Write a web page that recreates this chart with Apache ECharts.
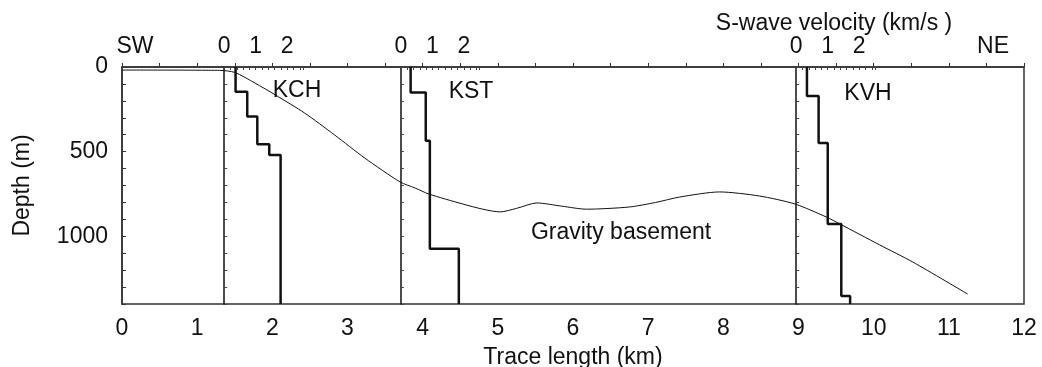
<!DOCTYPE html>
<html>
<head>
<meta charset="utf-8">
<script src="https://cdn.jsdelivr.net/npm/echarts@6/dist/echarts.min.js"></script>
<style>
  html, body { margin: 0; background: #fff; }
  #main { width: 1042px; height: 367px; }
</style>
</head>
<body>
<div id="main"></div>
<script>
// gravity basement profile (trace length km, depth m)
const gravityKm = [0, 1.3, 1.5, 1.77, 2.04, 2.43, 2.83, 3.23, 3.7, 3.9, 4.08, 4.53, 4.8, 5.03, 5.25, 5.52, 5.85, 6.18, 6.75, 7.1, 7.42, 7.95, 8.48, 8.95, 9.37, 9.55, 10.08, 10.52, 11.25]
const gravityDepth = [18, 20, 32, 95, 165, 272, 402, 538, 679, 715, 750, 809, 840, 856, 835, 803, 822, 840, 827, 800, 768, 738, 762, 809, 886, 927, 1051, 1152, 1341]

// wells: position along the trace (km)
const wellNames = ['KCH', 'KST', 'KVH']
const wellKm = [1.36, 3.71, 8.97]

// S-wave velocity layers (km/s) and layer bottom depth (m)
const kchVel = [0.36, 0.73, 1.05, 1.43, 1.79]
const kchBase = [146, 293, 457, 520, 1400]
const kstVel = [0.31, 0.79, 0.92, 1.84]
const kstBase = [150, 435, 1073, 1400]
const kvhVel = [0.34, 0.71, 1.0, 1.43, 1.71]
const kvhBase = [171, 449, 927, 1353, 1400]

const wellVel = [kchVel, kstVel, kvhVel]
const wellBase = [kchBase, kstBase, kvhBase]

const FONT = "'Liberation Sans', Arial, sans-serif"
const FS = 23
const INK = '#111'

function stepPoints (vel, base) {
  const pts = []
  let top = 0
  vel.forEach((v, i) => {
    pts.push([v, top])
    pts.push([v, base[i]])
    top = base[i]
  })
  return pts
}

const intLabel = v => (Math.abs(v - Math.round(v)) < 1e-6 ? String(Math.round(v)) : '')

const chart = echarts.init(document.getElementById('main'))

const mainGrid = {
  left: 122, right: 18, top: 67, bottom: 63,
  outerBoundsMode: 'none',
  show: true, borderColor: '#333', borderWidth: 1.5
}

const option = {
  animation: false,
  textStyle: { fontFamily: FONT },
  grid: [mainGrid],
  xAxis: [{
    type: 'value',
    gridIndex: 0,
    min: 0,
    max: 12,
    interval: 0.5,
    name: 'Trace length (km)',
    nameLocation: 'middle',
    nameGap: 42,
    nameTextStyle: { fontSize: FS, color: INK, fontFamily: FONT },
    axisLine: { lineStyle: { color: '#333', width: 1.5 } },
    axisTick: { inside: true, length: 4, lineStyle: { color: '#333' } },
    axisLabel: { fontSize: FS, color: INK, margin: 13, formatter: intLabel },
    splitLine: { show: false }
  }],
  yAxis: [{
    type: 'value',
    gridIndex: 0,
    inverse: true,
    min: 0,
    max: 1400,
    interval: 100,
    name: 'Depth (m)',
    nameLocation: 'middle',
    nameGap: 88,
    nameTextStyle: { fontSize: FS, color: INK, fontFamily: FONT },
    axisLine: { lineStyle: { color: '#333', width: 1.5 } },
    axisTick: { inside: true, length: 4, lineStyle: { color: '#333' } },
    axisLabel: {
      fontSize: FS,
      color: INK,
      margin: 14,
      formatter: v => (v % 500 === 0 ? String(v) : '')
    },
    splitLine: { show: false }
  }],
  series: [{
    type: 'line',
    name: 'Gravity basement',
    xAxisIndex: 0,
    yAxisIndex: 0,
    data: gravityKm.map((x, i) => [x, gravityDepth[i]]),
    smooth: 0.25,
    symbol: 'none',
    lineStyle: { color: INK, width: 1 }
  }]
}

chart.setOption(option)

// one small grid per well, its left edge at the well's place on the trace axis
const velPxPerUnit = 31.5
wellNames.forEach((name, i) => {
  const left = chart.convertToPixel({ gridIndex: 0 }, [wellKm[i], 0])[0]
  option.grid.push({ left: left, top: 67, bottom: 63, width: velPxPerUnit * 2.5, outerBoundsMode: 'none' })
  option.xAxis.push({
    type: 'value',
    gridIndex: i + 1,
    position: 'top',
    min: 0,
    max: 2.5,
    interval: 0.2,
    axisLine: { show: false },
    axisTick: { inside: true, length: 3, lineStyle: { color: '#444' } },
    axisLabel: { fontSize: FS, color: INK, margin: 9, formatter: intLabel },
    splitLine: { show: false }
  })
  option.yAxis.push({
    type: 'value',
    gridIndex: i + 1,
    inverse: true,
    min: 0,
    max: 1400,
    interval: 100,
    axisLine: { onZero: false, lineStyle: { color: INK, width: 1.5 } },
    axisTick: { inside: true, length: 3, lineStyle: { color: '#444' } },
    axisLabel: { show: false },
    splitLine: { show: false }
  })
  option.series.push({
    type: 'line',
    name: name,
    xAxisIndex: i + 1,
    yAxisIndex: i + 1,
    data: stepPoints(wellVel[i], wellBase[i]),
    symbol: 'none',
    lineStyle: { color: INK, width: 2.5 }
  })
})

const txt = (x, y, text) => ({
  type: 'text',
  x: x,
  y: y,
  style: { text: text, fontSize: FS, fontFamily: FONT, fill: INK, align: 'center', verticalAlign: 'middle' }
})

option.graphic = [
  txt(135, 47, 'SW'),
  txt(993, 47, 'NE'),
  txt(834, 24, 'S-wave velocity (km/s )'),
  txt(297, 91, wellNames[0]),
  txt(471, 92, wellNames[1]),
  txt(868, 94, wellNames[2]),
  txt(621, 233, 'Gravity basement')
]

chart.setOption(option, true)
</script>
</body>
</html>
